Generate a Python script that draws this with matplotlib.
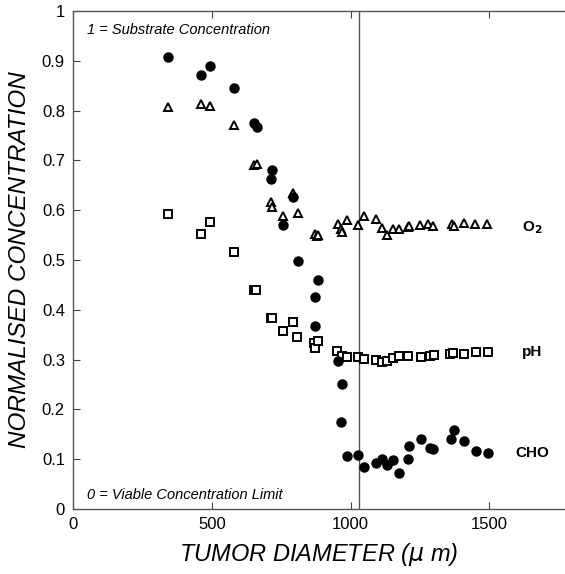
import numpy as np
import matplotlib.pyplot as plt

plt.rcParams['font.family'] = ['Liberation Sans', 'DejaVu Sans']

# CHO (filled circles)
cho_x = [343, 460, 493, 578, 652, 661, 712, 718, 757, 791, 809, 872, 872, 884,
         953, 968, 965, 988, 1028, 1050, 1092, 1114, 1132, 1154, 1175, 1208,
         1211, 1254, 1286, 1298, 1362, 1373, 1410, 1451, 1494]
cho_y = [0.908, 0.871, 0.889, 0.845, 0.776, 0.768, 0.663, 0.681, 0.571, 0.626,
         0.499, 0.426, 0.367, 0.460, 0.297, 0.251, 0.175, 0.106, 0.108, 0.085,
         0.092, 0.101, 0.089, 0.098, 0.072, 0.100, 0.127, 0.140, 0.123, 0.120,
         0.140, 0.159, 0.137, 0.116, 0.112]

# O2 (open triangles)
o2_x = [343, 460, 493, 578, 653, 661, 712, 718, 757, 791, 809, 872, 880, 884,
        956, 966, 968, 986, 1028, 1050, 1092, 1112, 1132, 1152, 1175, 1208,
        1211, 1250, 1280, 1298, 1365, 1373, 1409, 1449, 1493]
o2_y = [0.808, 0.814, 0.809, 0.771, 0.691, 0.693, 0.617, 0.607, 0.589, 0.634,
        0.594, 0.553, 0.548, 0.551, 0.572, 0.562, 0.557, 0.580, 0.570, 0.589,
        0.582, 0.564, 0.550, 0.562, 0.562, 0.567, 0.569, 0.570, 0.572, 0.568,
        0.572, 0.568, 0.574, 0.572, 0.572]

# pH (open squares)
ph_x = [343, 460, 493, 578, 650, 659, 713, 716, 757, 791, 808, 869, 872, 884,
        952, 968, 986, 1028, 1050, 1092, 1114, 1132, 1154, 1176, 1208, 1253,
        1286, 1301, 1358, 1370, 1410, 1451, 1494]
ph_y = [0.592, 0.552, 0.576, 0.516, 0.440, 0.440, 0.383, 0.384, 0.357, 0.375,
        0.345, 0.333, 0.324, 0.338, 0.317, 0.307, 0.306, 0.306, 0.301, 0.299,
        0.296, 0.298, 0.303, 0.307, 0.307, 0.305, 0.307, 0.309, 0.311, 0.314,
        0.311, 0.316, 0.316]

series_labels = ['O$_\\mathbf{2}$', 'pH', 'CHO']
label_y = [0.564, 0.316, 0.112]
viable_limit = 1030

fig = plt.figure(figsize=(5.65, 5.74), dpi=100)
ax = fig.add_axes([0.1297, 0.1132, 0.8703, 0.8676])

ax.axvline(viable_limit, color='#555555', lw=1.0, zorder=1)

ax.plot(o2_x, o2_y, linestyle='none', marker='^', ms=6.2, mfc='white',
        mec='black', mew=1.4, zorder=3)
ax.plot(ph_x, ph_y, linestyle='none', marker='s', ms=5.6, mfc='white',
        mec='black', mew=1.4, zorder=3)
ax.plot(cho_x, cho_y, linestyle='none', marker='o', ms=6.5, mfc='black',
        mec='black', zorder=4)

for lab, yy in zip(series_labels, label_y):
    ax.text(1655, yy, lab, ha='center', va='center', fontsize=11,
            fontweight='bold')

ax.text(0.028, 0.975, '1 = Substrate Concentration', transform=ax.transAxes,
        fontsize=10.5, style='italic', va='top')
ax.text(0.028, 0.014, '0 = Viable Concentration Limit', transform=ax.transAxes,
        fontsize=10.5, style='italic', va='bottom')

ax.set_xlim(0, 1773)
ax.set_ylim(0, 1)
ax.set_xticks([0, 500, 1000, 1500])
ax.set_yticks(np.arange(0, 1.01, 0.1))
ax.set_yticklabels(['0', '0.1', '0.2', '0.3', '0.4', '0.5', '0.6', '0.7',
                    '0.8', '0.9', '1'])
ax.tick_params(direction='in', top=True, right=False, length=5, width=0.8,
               labelsize=12, color='#444444', pad=6)
ax.spines['right'].set_visible(False)
for s in ['left', 'bottom', 'top']:
    ax.spines[s].set_color('#555555')
    ax.spines[s].set_linewidth(1.0)

ax.set_xlabel('TUMOR DIAMETER ($\\mu$ m)', fontsize=17, style='italic',
              labelpad=6)
ax.set_ylabel('NORMALISED CONCENTRATION', fontsize=17.5, style='italic',
              labelpad=8)

fig.savefig('out.png', dpi=100)
